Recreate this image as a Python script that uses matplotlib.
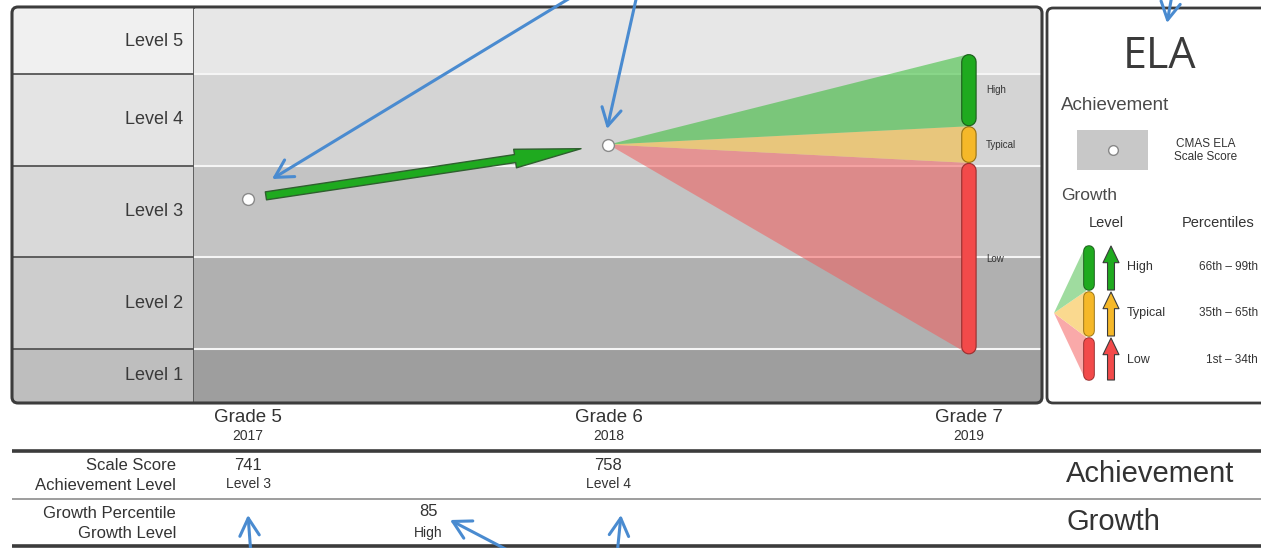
import numpy as np
import matplotlib.pyplot as plt
import matplotlib.patheffects as pe
from matplotlib.patches import FancyBboxPatch, Rectangle, Polygon
from matplotlib.transforms import blended_transform_factory

plt.rcParams['font.family'] = ['Liberation Sans', 'DejaVu Sans']
NARROW = ['Liberation Sans Narrow', 'Liberation Sans', 'DejaVu Sans']

## Data
grades = [5, 6, 7]
years = [2017, 2018, 2019]
scale_scores = [741, 758]
achievement_levels = ['Level 3', 'Level 4']
growth_percentile = '85'
growth_level = 'High'

level_names = ['Level 1', 'Level 2', 'Level 3', 'Level 4', 'Level 5']
cut_scores = [650, 700, 725, 750, 785, 850]

# grade 7 scores reached at the 1st, 35th, 66th and 99th growth percentile
growth_targets = [697, 751, 765, 799]
growth_bands = ['Low', 'Typical', 'High']
percentile_ranges = ['1st – 34th', '35th – 65th', '66th – 99th']

## Styles
band_plot = ['#9e9e9e', '#b0b0b0', '#c3c3c3', '#d4d4d4', '#e7e7e7']
band_label = ['#bebebe', '#cdcdcd', '#d9d9d9', '#e4e4e4', '#f0f0f0']
bar_colors = ['#f24a4a', '#f5b829', '#1faa1f']
bar_edges = ['#9a3030', '#9a7415', '#1d5f1d']
fan_colors = ['#f45959', '#faba2e', '#2abb2a']
fan_light = ['#f9a9a9', '#fad98f', '#9fdc9f']
blue = '#4a8bd0'
txt = '#333333'

W, H = 1261, 548
fig = plt.figure(figsize=(W / 100, H / 100), dpi=100)


def px(x0, y0, x1, y1):
    return [x0 / W, 1 - y1 / H, (x1 - x0) / W, (y1 - y0) / H]


pos = np.arange(len(cut_scores))
fwd = lambda s: np.interp(s, cut_scores, pos)
inv = lambda p: np.interp(p, pos, cut_scores)
ylo, yhi = 671, 831

ax_lab = fig.add_axes(px(13, 9, 194, 402))
ax = fig.add_axes(px(194, 9, 1041, 402))
for a in (ax_lab, ax):
    a.set_yscale('function', functions=(fwd, inv))
    a.set_ylim(ylo, yhi)
    a.set_xticks([])
    a.set_yticks([])
    a.minorticks_off()
    for s in a.spines.values():
        s.set_visible(False)
ax.set_xlim(4.85, 7.2)
ax_lab.set_xlim(0, 1)

# achievement level bands
for i, name in enumerate(level_names):
    lo, hi = cut_scores[i], cut_scores[i + 1]
    ax.axhspan(lo, hi, color=band_plot[i], lw=0, zorder=0)
    ax_lab.axhspan(lo, hi, color=band_label[i], lw=0, zorder=0)
    mid = inv((fwd(max(lo, ylo)) + fwd(min(hi, yhi))) / 2)
    ax_lab.text(0.94, mid, name, ha='right', va='center', fontsize=13,
                color='#3a3a3a', family=NARROW)
for c in cut_scores[1:-1]:
    ax.axhline(c, color='#f5f5f5', lw=1.5, zorder=1)
    ax_lab.axhline(c, color='#555555', lw=1.3, zorder=1)
ax_lab.axvline(1, color='#555555', lw=1.3, clip_on=False)

# growth fan to grade 7
for k in range(3):
    ax.fill([grades[1], grades[2], grades[2]],
            [scale_scores[1], growth_targets[k], growth_targets[k + 1]],
            color=fan_colors[k], alpha=0.53, lw=0, zorder=2)

# grade 7 growth bars
for k in range(3):
    ax.annotate('', xy=(grades[2], growth_targets[k + 1]),
                xytext=(grades[2], growth_targets[k]),
                arrowprops=dict(arrowstyle='-', lw=9.5, color=bar_colors[k],
                                shrinkA=5.5, shrinkB=5.5, capstyle='round',
                                path_effects=[pe.Stroke(linewidth=11.2, foreground=bar_edges[k]),
                                              pe.Normal()]),
                zorder=4)
    mid = inv((fwd(growth_targets[k]) + fwd(growth_targets[k + 1])) / 2)
    ax.text(grades[2] + 0.048, mid, growth_bands[k], fontsize=7, color=txt,
            va='center', ha='left', zorder=5)

# growth arrow between grade 5 and grade 6
ax.annotate('', xy=(grades[1], scale_scores[1]), xytext=(grades[0], scale_scores[0]),
            arrowprops=dict(arrowstyle='simple,head_length=4.8,head_width=1.35,tail_width=0.58',
                            mutation_scale=10, fc='#1faa1f', ec='#2f5f2f', lw=1,
                            shrinkA=13, shrinkB=20),
            zorder=5)

ax.plot(grades[:2], scale_scores, ls='none', marker='o', ms=8.5, mfc='white',
        mec='#8a8a8a', mew=1, zorder=6)

## overlay in pixel coordinates
ov = fig.add_axes([0, 0, 1, 1], zorder=10)
ov.set_xlim(0, W)
ov.set_ylim(H, 0)
ov.axis('off')

ov.add_patch(FancyBboxPatch((12, 7), 1030, 396, boxstyle='round,pad=0,rounding_size=6',
                            fc='none', ec='#3c3c3c', lw=2.2))
ov.add_patch(FancyBboxPatch((1047, 8), 240, 395, boxstyle='round,pad=0,rounding_size=6',
                            fc='white', ec='#3c3c3c', lw=2))

# legend panel
ov.text(1160, 57, 'ELA', ha='center', va='center', fontsize=31, color='#3a3a3a',
        family=['Open Sans', 'Liberation Sans'])
ov.text(1061, 106, 'Achievement', ha='left', va='center', fontsize=13.5,
        color='#4a4a4a', family=NARROW)
ov.add_patch(Rectangle((1077, 130), 71, 40, fc='#c8c8c8', ec='none'))
ov.plot(1113, 150, 'o', ms=7, mfc='white', mec='#888888', mew=1)
ov.text(1206, 144, 'CMAS ELA', ha='center', va='center', fontsize=8.5, color=txt)
ov.text(1206, 157, 'Scale Score', ha='center', va='center', fontsize=8.5, color=txt)
ov.text(1061, 195, 'Growth', ha='left', va='center', fontsize=12.5, color='#4a4a4a',
        family=NARROW)
ov.text(1106, 223, 'Level', ha='center', va='center', fontsize=10.5, color=txt)
ov.text(1218, 223, 'Percentiles', ha='center', va='center', fontsize=10.5, color=txt)

edges = [381, 337, 291, 245]
label_y = [360, 313, 267]
for k in range(3):
    ov.add_patch(Polygon([(1054, 313), (1086, edges[k]), (1086, edges[k + 1])],
                         closed=True, fc=fan_light[k], ec='none'))
for k in range(3):
    ov.plot([1089, 1089], [edges[k] - 6, edges[k + 1] + 6], lw=7, color=bar_colors[k],
            solid_capstyle='round',
            path_effects=[pe.Stroke(linewidth=8.4, foreground=bar_edges[k]), pe.Normal()])
    ov.annotate('', xy=(1111, edges[k + 1] + 1), xytext=(1111, edges[k] - 1),
                arrowprops=dict(arrowstyle='simple,head_length=1.2,head_width=1.15,tail_width=0.5',
                                mutation_scale=10, fc=bar_colors[k], ec='#3a3a3a', lw=0.8,
                                shrinkA=0, shrinkB=0))
    ov.text(1127, label_y[k], growth_bands[k], ha='left', va='center', fontsize=9, color=txt)
    ov.text(1258, label_y[k], percentile_ranges[k], ha='right', va='center', fontsize=8.5,
            color=txt)

# table below the chart
tx = blended_transform_factory(ax.transData, ov.transData)
for g, yr in zip(grades, years):
    ov.text(g, 418, f'Grade {g}', transform=tx, ha='center', va='center', fontsize=13.5,
            color=txt)
    ov.text(g, 436, str(yr), transform=tx, ha='center', va='center', fontsize=10, color=txt)

ov.plot([12, W], [451, 451], color='#3c3c3c', lw=2.6, solid_capstyle='butt')
ov.plot([12, W], [499, 499], color='#8c8c8c', lw=1.2, solid_capstyle='butt')
ov.plot([12, W], [546, 546], color='#3c3c3c', lw=2.6, solid_capstyle='butt')

for label, y in [('Scale Score', 465), ('Achievement Level', 485),
                 ('Growth Percentile', 514), ('Growth Level', 533)]:
    ov.text(176, y, label, ha='right', va='center', fontsize=12, color=txt)

for g, s, lvl in zip(grades[:2], scale_scores, achievement_levels):
    ov.text(g, 465, str(s), transform=tx, ha='center', va='center', fontsize=12, color=txt)
    ov.text(g, 484, lvl, transform=tx, ha='center', va='center', fontsize=10, color=txt)

gmid = (grades[0] + grades[1]) / 2
ov.text(gmid, 512, growth_percentile, transform=tx, ha='center', va='center', fontsize=12,
        color=txt)
ov.text(gmid, 533, growth_level, transform=tx, ha='center', va='center', fontsize=10,
        color=txt)

ov.text(1066, 474, 'Achievement', ha='left', va='center', fontsize=21, color=txt)
ov.text(1066, 522, 'Growth', ha='left', va='center', fontsize=21, color=txt)

# blue call-out arrows
callouts = [((575, -5), (272, 179)), ((637, -5), (607, 129)), ((1172, -5), (1167, 23)),
            ((251, 555), (248, 515)), ((517, 555), (450, 520)), ((617, 555), (621, 515))]
for tail, tip in callouts:
    ov.annotate('', xy=tip, xytext=tail, annotation_clip=False,
                arrowprops=dict(arrowstyle='->,head_length=0.9,head_width=0.5',
                                mutation_scale=14, color=blue, lw=2.2,
                                shrinkA=0, shrinkB=0))

fig.savefig('out.png', dpi=100)
